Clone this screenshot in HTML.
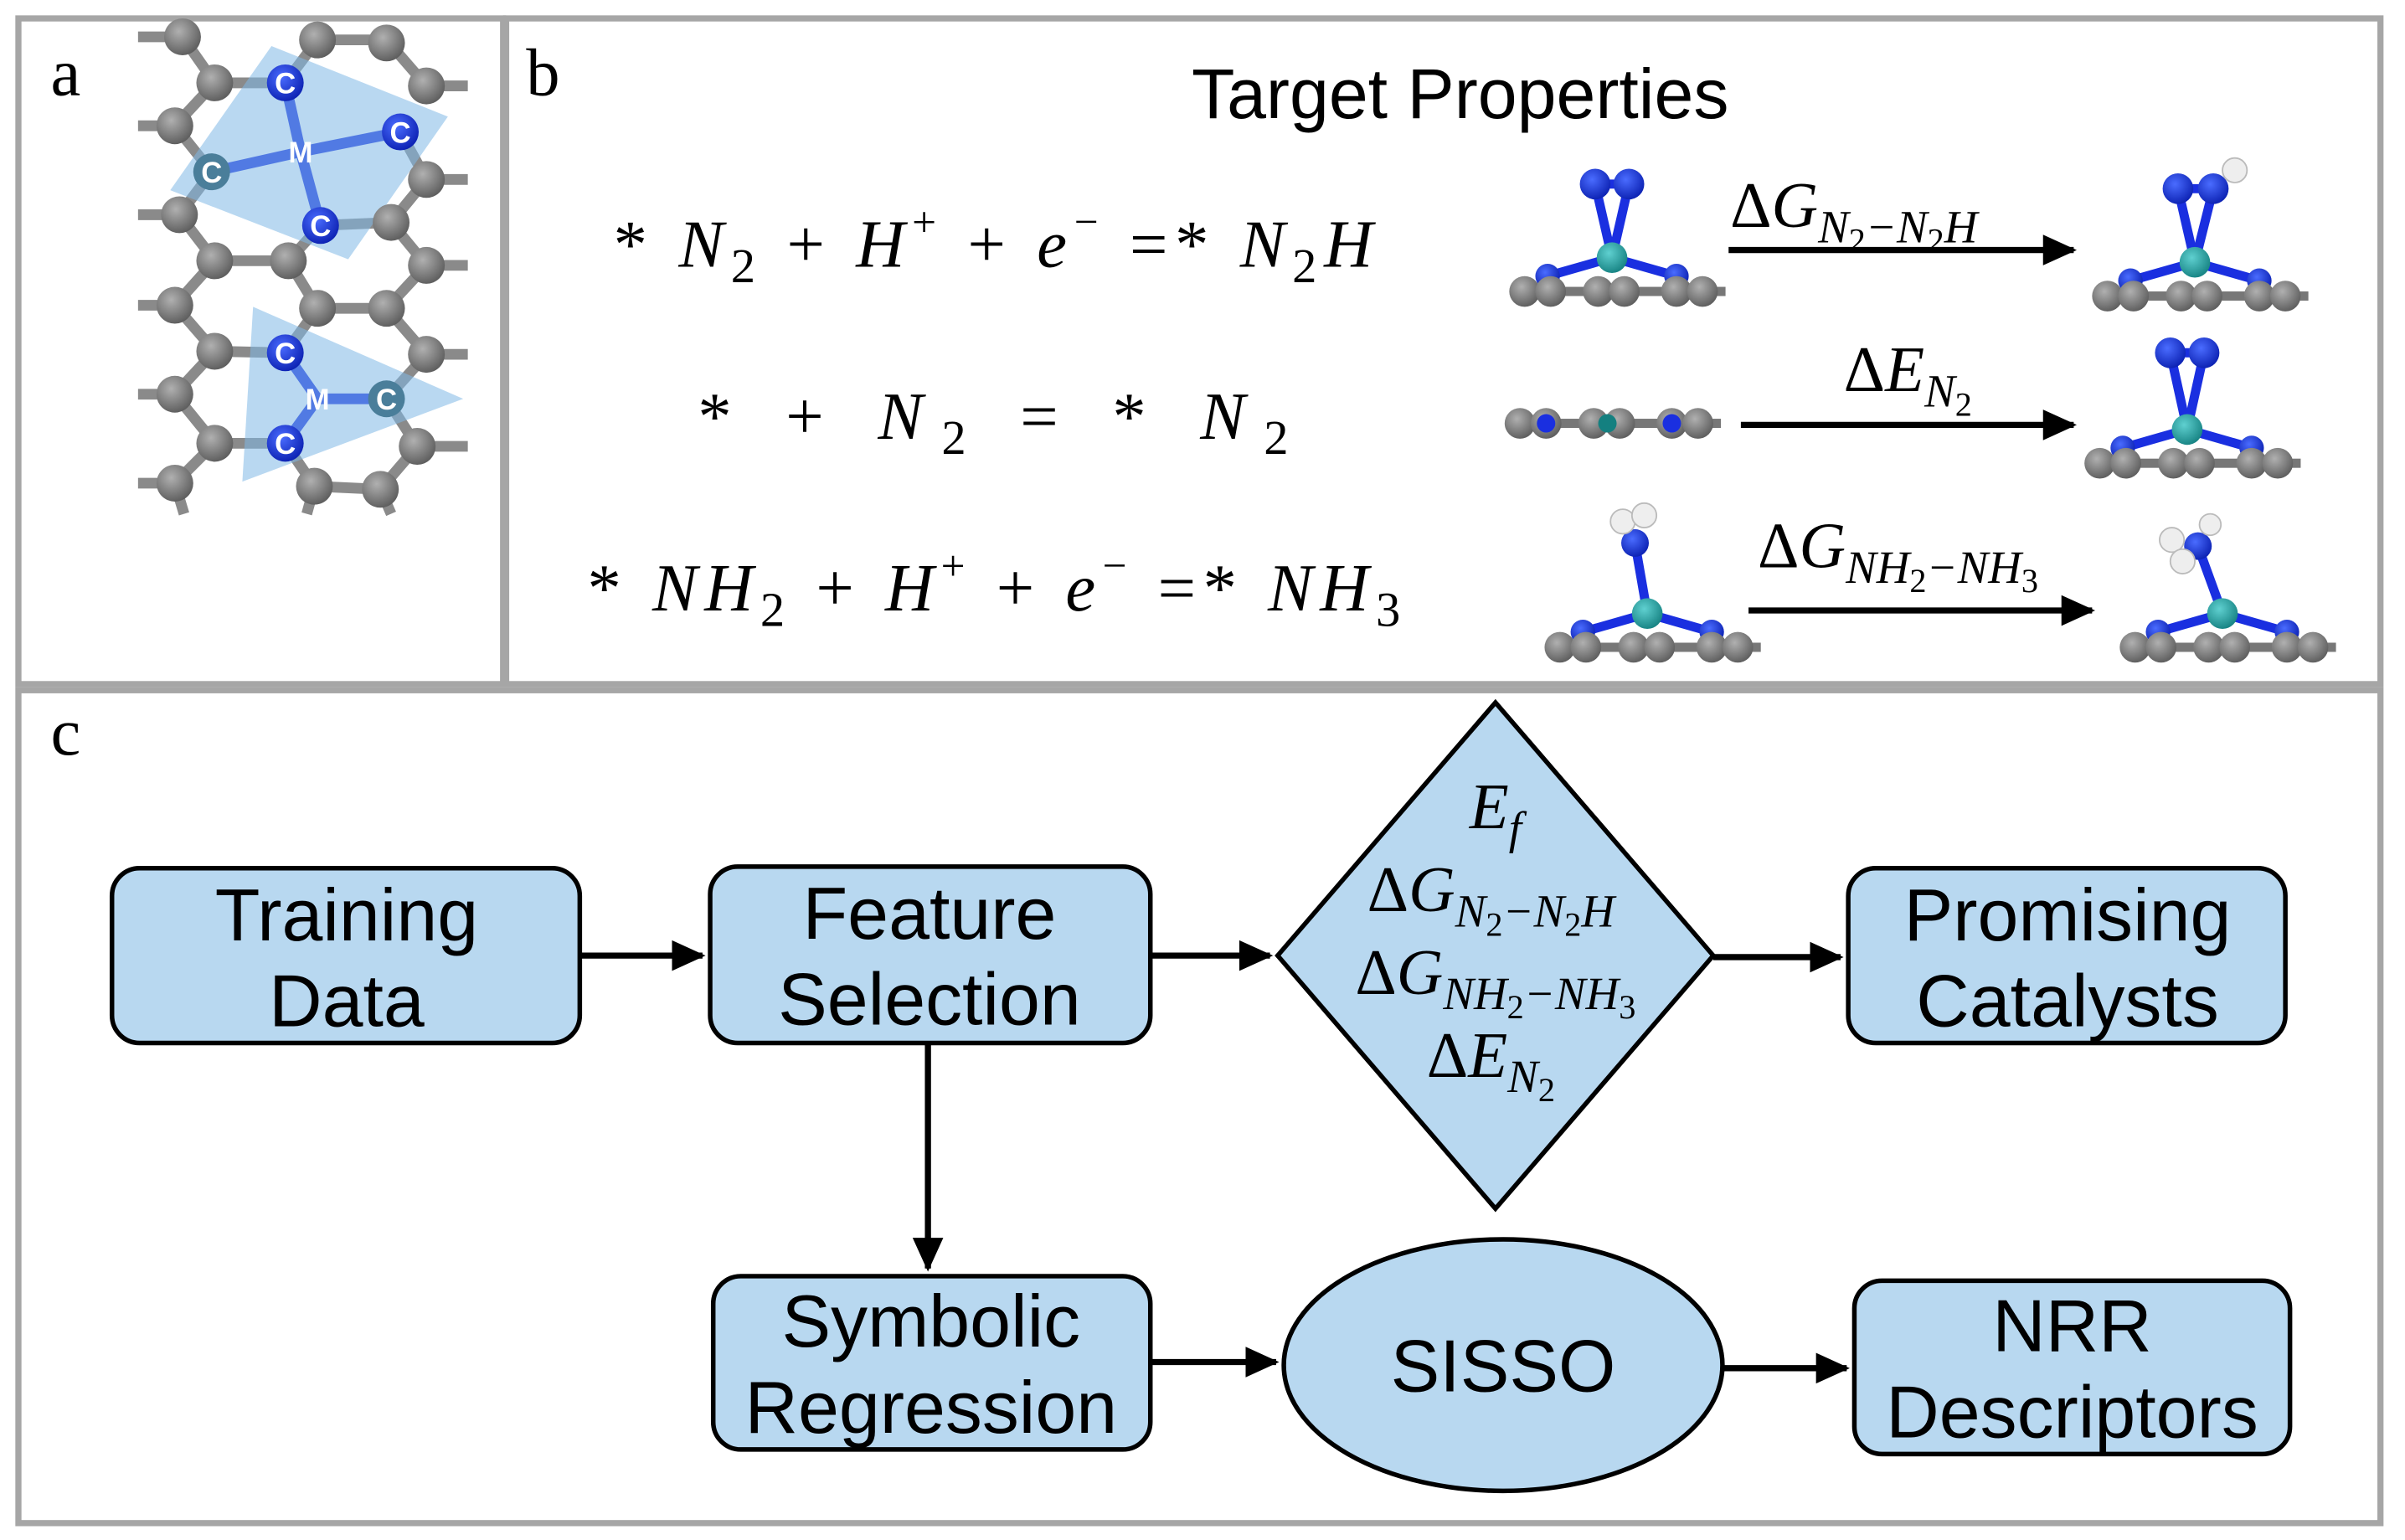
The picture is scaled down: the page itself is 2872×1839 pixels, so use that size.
<!DOCTYPE html>
<html><head><meta charset="utf-8"><style>
html,body{margin:0;padding:0;background:#fff}
svg{display:block}
.bx{fill:#b8d8f0;stroke:#000;stroke-width:3}
.lb{font-family:"Liberation Sans",sans-serif;font-size:48px;text-anchor:middle;fill:#000}
.m{font-family:"Liberation Serif",serif;font-style:italic;fill:#000}
.ar{stroke:#000;stroke-width:4;fill:none}
</style></head><body>
<svg width="2872" height="1839" viewBox="0 0 1568 1004" xmlns="http://www.w3.org/2000/svg">
<defs>
<marker id="ah" markerWidth="6" markerHeight="6" refX="5" refY="3" orient="auto" markerUnits="strokeWidth"><path d="M0,0.5 L5.5,3 L0,5.5 z" fill="#000"/></marker>
<radialGradient id="gc" cx="0.4" cy="0.35" r="0.7"><stop offset="0" stop-color="#b0b0b0"/><stop offset="1" stop-color="#5a5a5a"/></radialGradient>
<radialGradient id="bc" cx="0.4" cy="0.35" r="0.7"><stop offset="0" stop-color="#4a6cff"/><stop offset="1" stop-color="#0a1fb0"/></radialGradient>
<radialGradient id="tc" cx="0.4" cy="0.35" r="0.7"><stop offset="0" stop-color="#5fd0d0"/><stop offset="1" stop-color="#148080"/></radialGradient>
<g id="slab">
<rect x="0" y="-3" width="140" height="6" fill="#777"/>
<circle cx="9" cy="0" r="10" fill="url(#gc)"/><circle cx="26" cy="0" r="10" fill="url(#gc)"/>
<circle cx="57" cy="0" r="10" fill="url(#gc)"/><circle cx="74" cy="0" r="10" fill="url(#gc)"/>
<circle cx="108" cy="0" r="10" fill="url(#gc)"/><circle cx="125" cy="0" r="10" fill="url(#gc)"/>
</g>
<g id="slabM">
<line x1="66" y1="-22" x2="24" y2="-10" stroke="#1a2fe0" stroke-width="6"/>
<line x1="66" y1="-22" x2="108" y2="-10" stroke="#1a2fe0" stroke-width="6"/>
<circle cx="24" cy="-10" r="8" fill="url(#bc)"/><circle cx="108" cy="-10" r="8" fill="url(#bc)"/>
<use href="#slab"/>
<circle cx="66" cy="-22" r="10" fill="url(#tc)"/>
</g>
</defs>

<!-- frames -->
<rect x="12" y="12" width="316" height="434" fill="none" stroke="#a6a6a6" stroke-width="4"/>
<rect x="330" y="12" width="1222" height="434" fill="none" stroke="#a6a6a6" stroke-width="4"/>
<rect x="12" y="450" width="1540" height="543" fill="none" stroke="#a6a6a6" stroke-width="4"/>

<!-- panel a -->
<text x="33" y="62" font-family="Liberation Serif,serif" font-size="44" fill="#000">a</text>
<g stroke="#8a8a8a" stroke-width="7" fill="none">
<polyline points="90,24 119,24 140,54 186,54 207,26 252,26 278,56 305,56"/>
<polyline points="90,82 114,82 140,54"/>
<polyline points="114,82 138,112 117,140 90,140"/>
<polyline points="261,86 278,117 305,117"/>
<polyline points="278,117 255,145 209,147 188,170 140,170 117,140"/>
<polyline points="255,145 278,173 305,173"/>
<polyline points="140,170 114,199 90,199"/>
<polyline points="188,170 207,201 252,201 278,173"/>
<polyline points="114,199 140,229 186,230 207,201"/>
<polyline points="252,201 278,231 305,231"/>
<polyline points="140,229 114,257 90,257"/>
<polyline points="278,231 252,260"/>
<polyline points="114,257 140,289 186,289"/>
<polyline points="252,260 272,291 305,291"/>
<polyline points="140,289 114,315 90,315"/>
<polyline points="186,289 205,317 248,319 272,291"/>
<polyline points="114,315 120,335"/><polyline points="205,317 200,335"/><polyline points="248,319 255,335"/>
</g>
<g stroke="#1a2fe0" stroke-width="7">
<line x1="186" y1="54" x2="196" y2="99"/><line x1="196" y1="99" x2="261" y2="86"/>
<line x1="196" y1="99" x2="138" y2="112"/><line x1="196" y1="99" x2="209" y2="147"/>
<line x1="186" y1="230" x2="207" y2="260"/><line x1="207" y1="260" x2="252" y2="260"/><line x1="207" y1="260" x2="186" y2="289"/>
</g>
<polygon points="177,30 292,76 227,169 111,124" fill="#7fb8e6" opacity="0.55"/>
<polygon points="165,200 302,260 158,314" fill="#7fb8e6" opacity="0.55"/>
<g fill="url(#gc)">
<circle cx="119" cy="24" r="12"/><circle cx="207" cy="26" r="12"/><circle cx="252" cy="28" r="12"/>
<circle cx="140" cy="54" r="12"/><circle cx="278" cy="56" r="12"/><circle cx="114" cy="82" r="12"/>
<circle cx="278" cy="117" r="12"/><circle cx="117" cy="140" r="12"/><circle cx="255" cy="145" r="12"/>
<circle cx="140" cy="170" r="12"/><circle cx="188" cy="170" r="12"/><circle cx="278" cy="173" r="12"/>
<circle cx="114" cy="199" r="12"/><circle cx="207" cy="201" r="12"/><circle cx="252" cy="201" r="12"/>
<circle cx="140" cy="229" r="12"/><circle cx="278" cy="231" r="12"/><circle cx="114" cy="257" r="12"/>
<circle cx="140" cy="289" r="12"/><circle cx="272" cy="291" r="12"/><circle cx="114" cy="315" r="12"/>
<circle cx="205" cy="317" r="12"/><circle cx="248" cy="319" r="12"/>
</g>
<g fill="url(#bc)">
<circle cx="186" cy="54" r="12"/><circle cx="261" cy="86" r="12"/><circle cx="209" cy="147" r="12"/>
<circle cx="186" cy="230" r="12"/><circle cx="186" cy="289" r="12"/>
</g>
<g fill="#4a7e9a"><circle cx="138" cy="112" r="12"/><circle cx="252" cy="260" r="12"/></g>
<g font-family="Liberation Sans,sans-serif" font-weight="bold" font-size="19" fill="#fff" text-anchor="middle">
<text x="186" y="61">C</text><text x="261" y="93">C</text><text x="138" y="119">C</text><text x="209" y="154">C</text>
<text x="196" y="106">M</text>
<text x="186" y="237">C</text><text x="252" y="267">C</text><text x="186" y="296">C</text><text x="207" y="267">M</text>
</g>

<!-- panel b -->
<text x="343" y="62" font-family="Liberation Serif,serif" font-size="44" fill="#000">b</text>
<text x="952" y="77" font-family="Liberation Sans,sans-serif" font-size="46" text-anchor="middle">Target Properties</text>
<g class="m" font-size="44">
<text x="400" y="174" textLength="495" lengthAdjust="spacing"><tspan font-style="normal">*</tspan> N<tspan font-style="normal" font-size="32" dy="10">2</tspan><tspan dy="-10" font-style="normal"> + </tspan>H<tspan font-style="normal" font-size="28" dy="-20">+</tspan><tspan dy="20" font-style="normal"> + </tspan>e<tspan font-style="normal" font-size="28" dy="-20">−</tspan><tspan dy="20" font-style="normal">  =*</tspan> N<tspan font-style="normal" font-size="32" dy="10">2</tspan><tspan dy="-10">H</tspan></text>
<text x="455" y="286" textLength="385" lengthAdjust="spacing"><tspan font-style="normal">*    +   </tspan>N<tspan font-style="normal" font-size="32" dy="10">2</tspan><tspan dy="-10" font-style="normal">   =    * </tspan>N<tspan font-style="normal" font-size="32" dy="10">2</tspan></text>
<text x="383" y="398" textLength="530" lengthAdjust="spacing"><tspan font-style="normal">*</tspan> NH<tspan font-style="normal" font-size="32" dy="10">2</tspan><tspan dy="-10" font-style="normal"> + </tspan>H<tspan font-style="normal" font-size="28" dy="-20">+</tspan><tspan dy="20" font-style="normal"> + </tspan>e<tspan font-style="normal" font-size="28" dy="-20">−</tspan><tspan dy="20" font-style="normal">  =*</tspan> NH<tspan font-style="normal" font-size="32" dy="10">3</tspan></text>
</g>

<!-- molecules row1 -->
<g transform="translate(985,190)">
<line x1="66" y1="-22" x2="55" y2="-70" stroke="#1a2fe0" stroke-width="6"/><line x1="66" y1="-22" x2="77" y2="-70" stroke="#1a2fe0" stroke-width="6"/>
<line x1="55" y1="-70" x2="77" y2="-70" stroke="#1a2fe0" stroke-width="6"/>
<use href="#slabM"/>
<circle cx="55" cy="-70" r="10" fill="url(#bc)"/><circle cx="77" cy="-70" r="10" fill="url(#bc)"/>
</g>
<g transform="translate(1365,193)">
<line x1="66" y1="-22" x2="55" y2="-70" stroke="#1a2fe0" stroke-width="6"/><line x1="66" y1="-22" x2="78" y2="-70" stroke="#1a2fe0" stroke-width="6"/>
<line x1="55" y1="-70" x2="78" y2="-70" stroke="#1a2fe0" stroke-width="6"/>
<use href="#slabM"/>
<circle cx="55" cy="-70" r="10" fill="url(#bc)"/><circle cx="78" cy="-70" r="10" fill="url(#bc)"/>
<circle cx="92" cy="-82" r="8" fill="#eee" stroke="#bbb"/>
</g>
<line x1="1127" y1="163" x2="1352" y2="163" class="ar" stroke-width="3" marker-end="url(#ah)"/>
<text x="1128" y="148" class="m" font-size="42"><tspan font-style="normal">Δ</tspan>G<tspan font-size="30" dy="10">N</tspan><tspan font-style="normal" font-size="22" dy="6">2</tspan><tspan font-size="30" dy="-6">−N</tspan><tspan font-style="normal" font-size="22" dy="6">2</tspan><tspan font-size="30" dy="-6">H</tspan></text>

<!-- row2 -->
<g transform="translate(982,276)"><use href="#slab"/><circle cx="26" cy="0" r="6" fill="#1a2fe0"/><circle cx="66" cy="0" r="6" fill="#148080"/><circle cx="108" cy="0" r="6" fill="#1a2fe0"/></g>
<g transform="translate(1360,302)">
<line x1="66" y1="-22" x2="55" y2="-72" stroke="#1a2fe0" stroke-width="6"/><line x1="66" y1="-22" x2="77" y2="-72" stroke="#1a2fe0" stroke-width="6"/>
<line x1="55" y1="-72" x2="77" y2="-72" stroke="#1a2fe0" stroke-width="6"/>
<use href="#slabM"/>
<circle cx="55" cy="-72" r="10" fill="url(#bc)"/><circle cx="77" cy="-72" r="10" fill="url(#bc)"/>
</g>
<line x1="1135" y1="277" x2="1352" y2="277" class="ar" stroke-width="3" marker-end="url(#ah)"/>
<text x="1202" y="255" class="m" font-size="42"><tspan font-style="normal">Δ</tspan>E<tspan font-size="30" dy="10">N</tspan><tspan font-style="normal" font-size="22" dy="6">2</tspan></text>

<!-- row3 -->
<g transform="translate(1008,422)">
<line x1="66" y1="-22" x2="58" y2="-68" stroke="#1a2fe0" stroke-width="6"/>
<use href="#slabM"/>
<circle cx="58" cy="-68" r="9" fill="url(#bc)"/>
<circle cx="50" cy="-82" r="8" fill="#eee" stroke="#bbb"/><circle cx="64" cy="-86" r="8" fill="#eee" stroke="#bbb"/>
</g>
<g transform="translate(1383,422)">
<line x1="66" y1="-22" x2="50" y2="-66" stroke="#1a2fe0" stroke-width="6"/>
<use href="#slabM"/>
<circle cx="50" cy="-66" r="9" fill="url(#bc)"/>
<circle cx="33" cy="-70" r="8" fill="#eee" stroke="#bbb"/><circle cx="40" cy="-56" r="8" fill="#eee" stroke="#bbb"/><circle cx="58" cy="-80" r="7" fill="#eee" stroke="#bbb"/>
</g>
<line x1="1140" y1="398" x2="1364" y2="398" class="ar" stroke-width="3" marker-end="url(#ah)"/>
<text x="1146" y="370" class="m" font-size="42"><tspan font-style="normal">Δ</tspan>G<tspan font-size="30" dy="10">NH</tspan><tspan font-style="normal" font-size="22" dy="6">2</tspan><tspan font-size="30" dy="-6">−NH</tspan><tspan font-style="normal" font-size="22" dy="6">3</tspan></text>

<!-- panel c -->
<text x="33" y="492" font-family="Liberation Serif,serif" font-size="44" fill="#000">c</text>
<rect class="bx" x="73" y="566" width="305" height="114" rx="18"/>
<text class="lb" x="226" y="613">Training</text><text class="lb" x="226" y="669">Data</text>
<rect class="bx" x="463" y="565" width="287" height="115" rx="18"/>
<text class="lb" x="606" y="612">Feature</text><text class="lb" x="606" y="668">Selection</text>
<polygon class="bx" points="975,458 1117,623 975,788 833,623"/>
<g class="m" text-anchor="middle" font-size="42">
<text x="975" y="540">E<tspan font-size="30" dy="10">f</tspan></text>
<text x="972" y="594"><tspan font-style="normal">Δ</tspan>G<tspan font-size="30" dy="10">N</tspan><tspan font-style="normal" font-size="22" dy="6">2</tspan><tspan font-size="30" dy="-6">−N</tspan><tspan font-style="normal" font-size="22" dy="6">2</tspan><tspan font-size="30" dy="-6">H</tspan></text>
<text x="975" y="648"><tspan font-style="normal">Δ</tspan>G<tspan font-size="30" dy="10">NH</tspan><tspan font-style="normal" font-size="22" dy="6">2</tspan><tspan font-size="30" dy="-6">−NH</tspan><tspan font-style="normal" font-size="22" dy="6">3</tspan></text>
<text x="972" y="702"><tspan font-style="normal">Δ</tspan>E<tspan font-size="30" dy="10">N</tspan><tspan font-style="normal" font-size="22" dy="6">2</tspan></text>
</g>
<rect class="bx" x="1205" y="566" width="285" height="114" rx="18"/>
<text class="lb" x="1348" y="613">Promising</text><text class="lb" x="1348" y="669">Catalysts</text>
<rect class="bx" x="465" y="832" width="285" height="113" rx="18"/>
<text class="lb" x="607" y="878">Symbolic</text><text class="lb" x="607" y="934">Regression</text>
<ellipse class="bx" cx="980" cy="890" rx="143" ry="82"/>
<text class="lb" x="980" y="907">SISSO</text>
<rect class="bx" x="1209" y="835" width="284" height="113" rx="18"/>
<text class="lb" x="1351" y="881">NRR</text><text class="lb" x="1351" y="937">Descriptors</text>

<line class="ar" x1="378" y1="623" x2="458" y2="623" marker-end="url(#ah)"/>
<line class="ar" x1="750" y1="623" x2="828" y2="623" marker-end="url(#ah)"/>
<line class="ar" x1="1117" y1="624" x2="1200" y2="624" marker-end="url(#ah)"/>
<line class="ar" x1="605" y1="680" x2="605" y2="827" marker-end="url(#ah)"/>
<line class="ar" x1="750" y1="888" x2="832" y2="888" marker-end="url(#ah)"/>
<line class="ar" x1="1123" y1="892" x2="1204" y2="892" marker-end="url(#ah)"/>
</svg>
</body></html>
